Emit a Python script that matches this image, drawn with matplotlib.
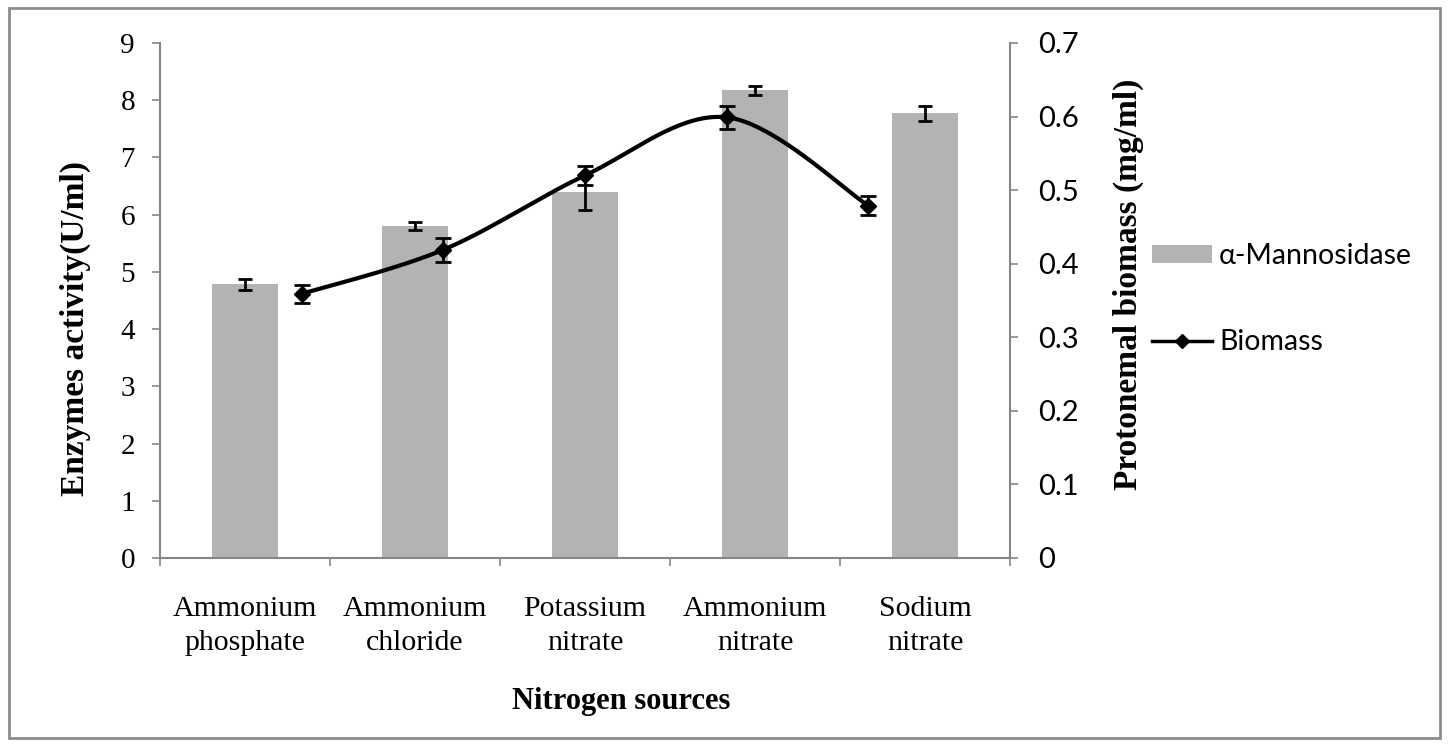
import numpy as np
import matplotlib.pyplot as plt
from matplotlib.patches import Rectangle, Patch
from matplotlib.lines import Line2D

# Nitrogen sources on the x axis
sources = ['Ammonium\nphosphate', 'Ammonium\nchloride', 'Potassium\nnitrate',
           'Ammonium\nnitrate', 'Sodium\nnitrate']

# alpha-Mannosidase activity (U/ml), left axis
mannosidase = [4.78, 5.80, 6.39, 8.17, 7.77]
mannosidase_err = [0.09, 0.07, 0.30, 0.07, 0.13]

# Protonemal biomass (mg/ml), right axis
biomass = [0.359, 0.419, 0.520, 0.599, 0.479]
biomass_err = [0.0125, 0.016, 0.0125, 0.016, 0.0125]

grey = '#868686'
serif = 'Liberation Serif'
sans = 'Lato'


def smooth(xs, ys, n=40):
    # excel style smoothed line (catmull-rom bezier)
    p = np.column_stack([xs, ys]).astype(float)
    p = np.vstack([p[0], p, p[-1]])
    out = []
    t = np.linspace(0, 1, n)[:, None]
    for i in range(1, len(p) - 2):
        p0, p1, p2, p3 = p[i - 1], p[i], p[i + 1], p[i + 2]
        c1 = p1 + (p2 - p0) / 6
        c2 = p2 - (p3 - p1) / 6
        seg = ((1 - t) ** 3) * p1 + 3 * ((1 - t) ** 2) * t * c1 \
            + 3 * (1 - t) * t ** 2 * c2 + t ** 3 * p2
        out.append(seg)
    out = np.vstack(out)
    return out[:, 0], out[:, 1]


fig = plt.figure(figsize=(14.48, 7.46), dpi=100)
fig.patches.append(Rectangle((9 / 1448, 8 / 746), 1431 / 1448, 730 / 746,
                             transform=fig.transFigure, fill=False,
                             edgecolor='#8c8c8c', linewidth=2))

ax = fig.add_axes([160 / 1448, 1 - 558 / 746, 850 / 1448, 515 / 746])
x = np.arange(len(sources))
ax.bar(x, mannosidase, width=0.39, color='#b3b3b3', yerr=mannosidase_err,
       capsize=5, error_kw=dict(elinewidth=2, capthick=2, ecolor='black'),
       zorder=2)
ax.set_xlim(-0.5, 4.5)
ax.set_ylim(0, 9)
ax.set_yticks(range(10))
ax.set_yticklabels([str(v) for v in range(10)], fontfamily=serif, fontsize=21)
ax.set_xticks(np.arange(-0.5, 5, 1))
ax.set_xticklabels([])
ax.set_xticks(x, minor=True)
ax.set_xticklabels(sources, minor=True, fontfamily=serif, fontsize=21.5,
                   linespacing=1.42)
ax.tick_params(axis='x', which='major', direction='out', length=6,
               color=grey, width=1.2)
ax.tick_params(axis='x', which='minor', length=0, pad=27)
ax.tick_params(axis='y', direction='out', length=6, color=grey, width=1.2,
               pad=12)
ax.spines['top'].set_visible(False)
ax.spines['right'].set_visible(False)
for s in ['left', 'bottom']:
    ax.spines[s].set_color(grey)
    ax.spines[s].set_linewidth(1.5)

ax2 = ax.twinx()
ax2.set_ylim(0, 0.7)
ax2.set_yticks(np.arange(0, 0.71, 0.1))
ax2.set_yticklabels(['0', '0.1', '0.2', '0.3', '0.4', '0.5', '0.6', '0.7'],
                    fontfamily=sans, fontsize=21)
ax2.tick_params(axis='y', direction='out', length=6, color=grey, width=1.2,
                pad=14)
for s in ['top', 'left', 'bottom']:
    ax2.spines[s].set_visible(False)
ax2.spines['right'].set_color(grey)
ax2.spines['right'].set_linewidth(1.5)

# biomass line sits on its own secondary category axis
ax3 = ax2.twiny()
ax3.set_xlim(-1, 5)
ax3.set_ylim(0, 0.7)
xb = np.arange(len(biomass))
sx, sy = smooth(xb, biomass)
ax3.plot(sx, sy, color='black', linewidth=3)
ax3.errorbar(xb, biomass, yerr=biomass_err, fmt='none', ecolor='black',
             capsize=6, elinewidth=2, capthick=2)
ax3.plot(xb, biomass, 'D', color='black', markersize=8)
ax3.set_xticks([])
for s in ax3.spines.values():
    s.set_visible(False)

fig.text(75 / 1448, 1 - 328 / 746, 'Enzymes activity(U/ml)', rotation=90,
         ha='center', va='center', fontfamily=serif, fontweight='bold',
         fontsize=24)
fig.text(1128 / 1448, 1 - 284 / 746, 'Protonemal biomass (mg/ml)', rotation=90,
         ha='center', va='center', fontfamily=serif, fontweight='bold',
         fontsize=24)
fig.text(621 / 1448, 1 - 702 / 746, 'Nitrogen sources', ha='center',
         va='center', fontfamily=serif, fontweight='bold', fontsize=22)

handles = [Patch(facecolor='#b3b3b3', edgecolor='none'),
           Line2D([], [], color='black', linewidth=2.5, marker='D',
                  markersize=7)]
fig.legend(handles, ['α-Mannosidase', 'Biomass'], loc='center left',
           bbox_to_anchor=(1152 / 1448, 1 - 299 / 746), frameon=False,
           prop=dict(family=sans, size=20.5), handlelength=2.1,
           handleheight=0.55, handletextpad=0.25, labelspacing=2.1,
           borderpad=0, borderaxespad=0)

fig.savefig('out.png', dpi=100)
